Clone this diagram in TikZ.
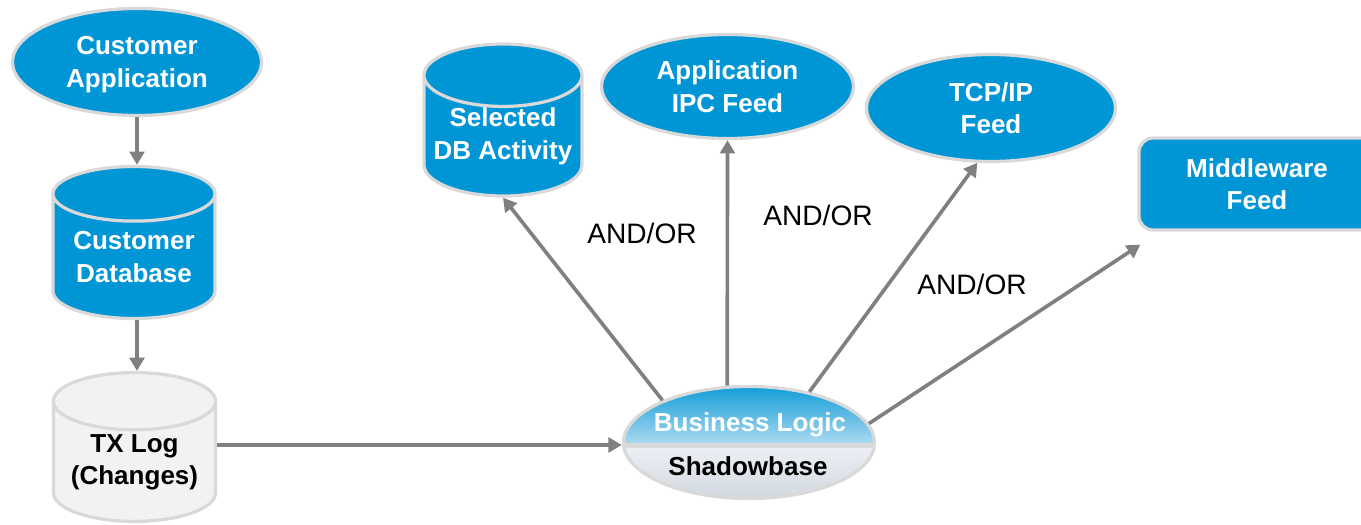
\documentclass[tikz,border=0pt]{standalone}
\usepackage{fontspec}
\setmainfont{Liberation Sans}
\usetikzlibrary{shapes,arrows.meta,positioning,calc}
\definecolor{sbblue}{RGB}{0,150,214}
\definecolor{sbsky}{RGB}{172,218,240}
\definecolor{sbrim}{RGB}{217,217,217}
\definecolor{sbgrey}{RGB}{128,128,128}
\definecolor{sblog}{RGB}{242,242,242}
\definecolor{sbmist}{RGB}{236,240,245}
\definecolor{sbsteel}{RGB}{208,214,222}

\begin{document}
\begin{tikzpicture}[x=0.025cm, y=-0.025cm, font=\fontsize{18.5}{23}\selectfont\bfseries,
    blob/.style={ellipse, draw=sbrim, line width=2.3pt, fill=sbblue, text=white, align=center, inner sep=0pt, text depth=0pt},
    can/.style={cylinder, shape border rotate=90, aspect=0.45, anchor=shape center, draw=sbrim, line width=2.3pt, fill=sbblue, text=white, align=center, inner sep=0pt},
    feed/.style={-{Triangle[length=9.5pt,width=10.5pt]}, line width=2.6pt, sbgrey}]
  \useasboundingbox (0,0) rectangle (1361,525);

  % left column
  \node[blob, minimum width=6.225cm, minimum height=2.675cm] (ca) at (137,62) {Customer\\Application};
  \node[can, minimum width=4.05cm, minimum height=3.8cm] (cdb) at (134,242.5) {Customer\\Database};
  \node[can, fill=sblog, text=black, minimum width=4.05cm, minimum height=3.72cm] (txlog) at (134.5,447) {TX Log\\(Changes)};

  % shadowbase
  \begin{scope}
    \clip (749,442.5) ellipse [x radius=125.5, y radius=56];
    \shade[top color=sbblue, bottom color=sbsky] (620,380) rectangle (880,444);
    \shade[top color=sbmist, bottom color=sbsteel] (620,446) rectangle (880,505);
    \fill[sbrim] (620,443) rectangle (880,448);
  \end{scope}
  \node[ellipse, draw=sbrim, line width=2.3pt, minimum width=6.275cm, minimum height=2.8cm, inner sep=0pt] (sb) at (749,442.5) {};
  \node[text=white] (sbtop) at (750,425) {Business Logic};
  \node[text=black] (sbbot) at (748,466) {Shadowbase};

  % outputs
  \node[can, minimum width=3.95cm, minimum height=3.8cm] (seldb) at (503,120) {Selected\\DB Activity};
  \node[blob, minimum width=6.3cm, minimum height=2.6cm] (ipc) at (727.5,86.5) {Application\\IPC Feed};
  \node[blob, minimum width=6.225cm, minimum height=2.675cm] (tcp) at (991,108) {TCP/IP\\Feed};
  \node[rectangle, rounded corners=10pt, draw=sbrim, line width=2.3pt, fill=sbblue, text=white, align=center,
        minimum width=5.9cm, minimum height=2.3cm] (mw) at (1257,184) {Middleware\\Feed};
  \coordinate (mwtip) at ($(mw.south west)+(3,13)$);

  \draw[feed] (ca.south) -- (ca.south |- cdb.north);
  \draw[feed] (cdb.south -| ca.south) -- (ca.south |- txlog.north);
  \draw[feed] (txlog.east |- 0,445) -- (sb.west |- 0,445);
  \foreach \a/\t in {154/seldb.south, 111.4/ipc.south, 40.4/tcp.256, 9/mwtip}
    \draw[feed] (sb.\a) -- (\t);

  \foreach \i/\x/\y in {1/642/233, 2/818/215.5, 3/972/284}
    \node[font=\fontsize{20}{24}\selectfont\mdseries] (andor\i) at (\x,\y) {AND/OR};
\end{tikzpicture}
\end{document}
